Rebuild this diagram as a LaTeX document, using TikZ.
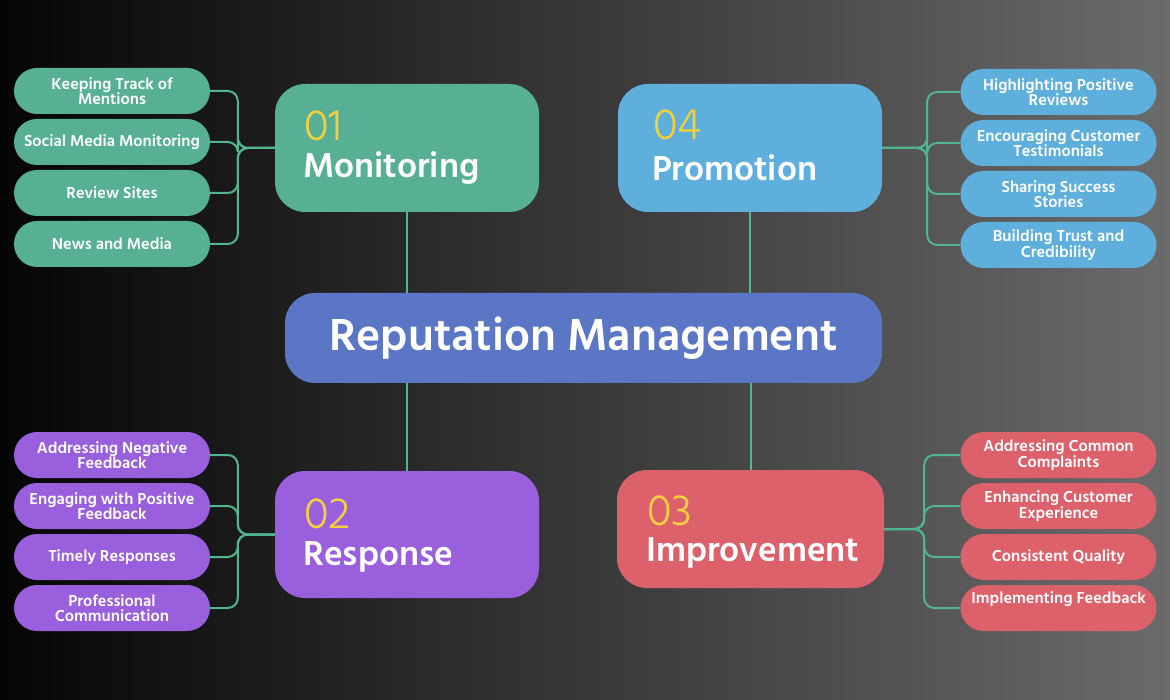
\documentclass[tikz,border=0pt]{standalone}
\usepackage{fontspec}
\setmainfont{Hind Siliguri}
\newfontfamily\numfont{Hind Siliguri Light}
\usetikzlibrary{calc,backgrounds}
\definecolor{bgdark}{HTML}{050505}
\definecolor{bglight}{HTML}{6B6B6B}
\definecolor{hubclr}{HTML}{5B76C4}
\definecolor{monclr}{HTML}{57B093}
\definecolor{proclr}{HTML}{5FAFDC}
\definecolor{resclr}{HTML}{9A5FDD}
\definecolor{impclr}{HTML}{DD616B}
\definecolor{numclr}{HTML}{F4CF3F}
\definecolor{linkclr}{HTML}{52B590}
\newcommand\stagenum[1]{{\numfont\mdseries\color{numclr}\fontsize{45}{37}\selectfont\kern1pt #1}}
\tikzset{
  hub/.style={fill=hubclr, rounded corners=30pt, minimum width=597pt, minimum height=90pt, inner sep=0pt, text=white, font=\bfseries\fontsize{46}{46}\selectfont},
  stage/.style={rounded corners=30pt, minimum width=264pt, minimum height=128pt, inner sep=0pt},
  stagelabel/.style={anchor=south west, inner sep=0pt, text depth=0pt, align=left, text=white, font=\bfseries\fontsize{35.5}{37}\selectfont},
  leaf/.style={rounded corners=23pt, minimum width=196pt, minimum height=46pt, inner sep=0pt, align=center, text=white, font=\bfseries\fontsize{16.3}{15.5}\selectfont},
  link/.style={draw=linkclr, line width=2pt, rounded corners=10pt}
}
\begin{document}
\begin{tikzpicture}[x=1pt, y=-1pt]
\useasboundingbox (0,0) rectangle (1170,700);
% background
\begin{scope}[on background layer]
\shade[left color=bgdark, right color=bglight] (0,0) rectangle (1170,700);
\end{scope}
% centre
\node[hub] (hub) at (583.5,338) {Reputation Management};
% stages
\node[stage, fill=monclr] (mon) at (407,148) {};
\node[stage, fill=proclr] (pro) at (750,148) {};
\node[stage, fill=resclr, minimum height=127pt] (res) at (407,534.5) {};
\node[stage, fill=impclr, minimum width=267pt, minimum height=118pt] (imp) at (750.5,529) {};
\node[stagelabel] (montext) at (303,178) {\stagenum{01}\\Monitoring};
\node[stagelabel] (protext) at (652,181) {\stagenum{04}\\[4pt]Promotion};
\node[stagelabel] (restext) at (303,566) {\stagenum{02}\\Response};
\node[stagelabel] (imptext) at (646,562) {\stagenum{03}\\[-1pt]Improvement};
% leaves
\foreach \t [count=\i] in {{Keeping Track of\\Mentions},{Social Media Monitoring},{Review Sites},{News and Media}}
  \node[leaf, fill=monclr] (m\i) at (112,40+51*\i) {\t};
\foreach \t [count=\i] in {{Highlighting Positive\\Reviews},{Encouraging Customer\\Testimonials},{Sharing Success\\Stories},{Building Trust and\\Credibility}}
  \node[leaf, fill=proclr] (p\i) at (1058.5,41+51*\i) {\t};
\foreach \t [count=\i] in {{Addressing Negative\\Feedback},{Engaging with Positive\\Feedback},{Timely Responses},{Professional\\Communication}}
  \node[leaf, fill=resclr] (r\i) at (112,404+51*\i) {\t};
\foreach \t [count=\i] in {{Addressing Common\\Complaints},{Enhancing Customer\\Experience},{Consistent Quality},{Implementing Feedback\\\strut}}
  \node[leaf, fill=impclr] (i\i) at (1058.5,404+51*\i) {\t};
% connectors
\coordinate (monj) at ($(mon.west)+(-37,0)$);
\coordinate (resj) at ($(res.west)+(-37,0)$);
\coordinate (proj) at ($(pro.east)+(45,0)$);
\coordinate (impj) at ($(imp.east)+(40,0)$);
\begin{scope}[on background layer]
\draw[link] (mon.south) -- (mon.south |- hub.north);
\draw[link] (pro.south) -- (pro.south |- hub.north);
\draw[link] (res.north) -- (res.north |- hub.south);
\draw[link] (imp.north) -- (imp.north |- hub.south);
\foreach \i in {1,...,4} {
  \draw[link] (m\i.east) -| (monj) -- (mon.west);
  \draw[link] (r\i.east) -| (resj) -- (res.west);
  \draw[link] (pro.east) -- (proj) |- (p\i.west);
  \draw[link] (imp.east) -- (impj) |- (i\i.west);
}
\end{scope}
\end{tikzpicture}
\end{document}
